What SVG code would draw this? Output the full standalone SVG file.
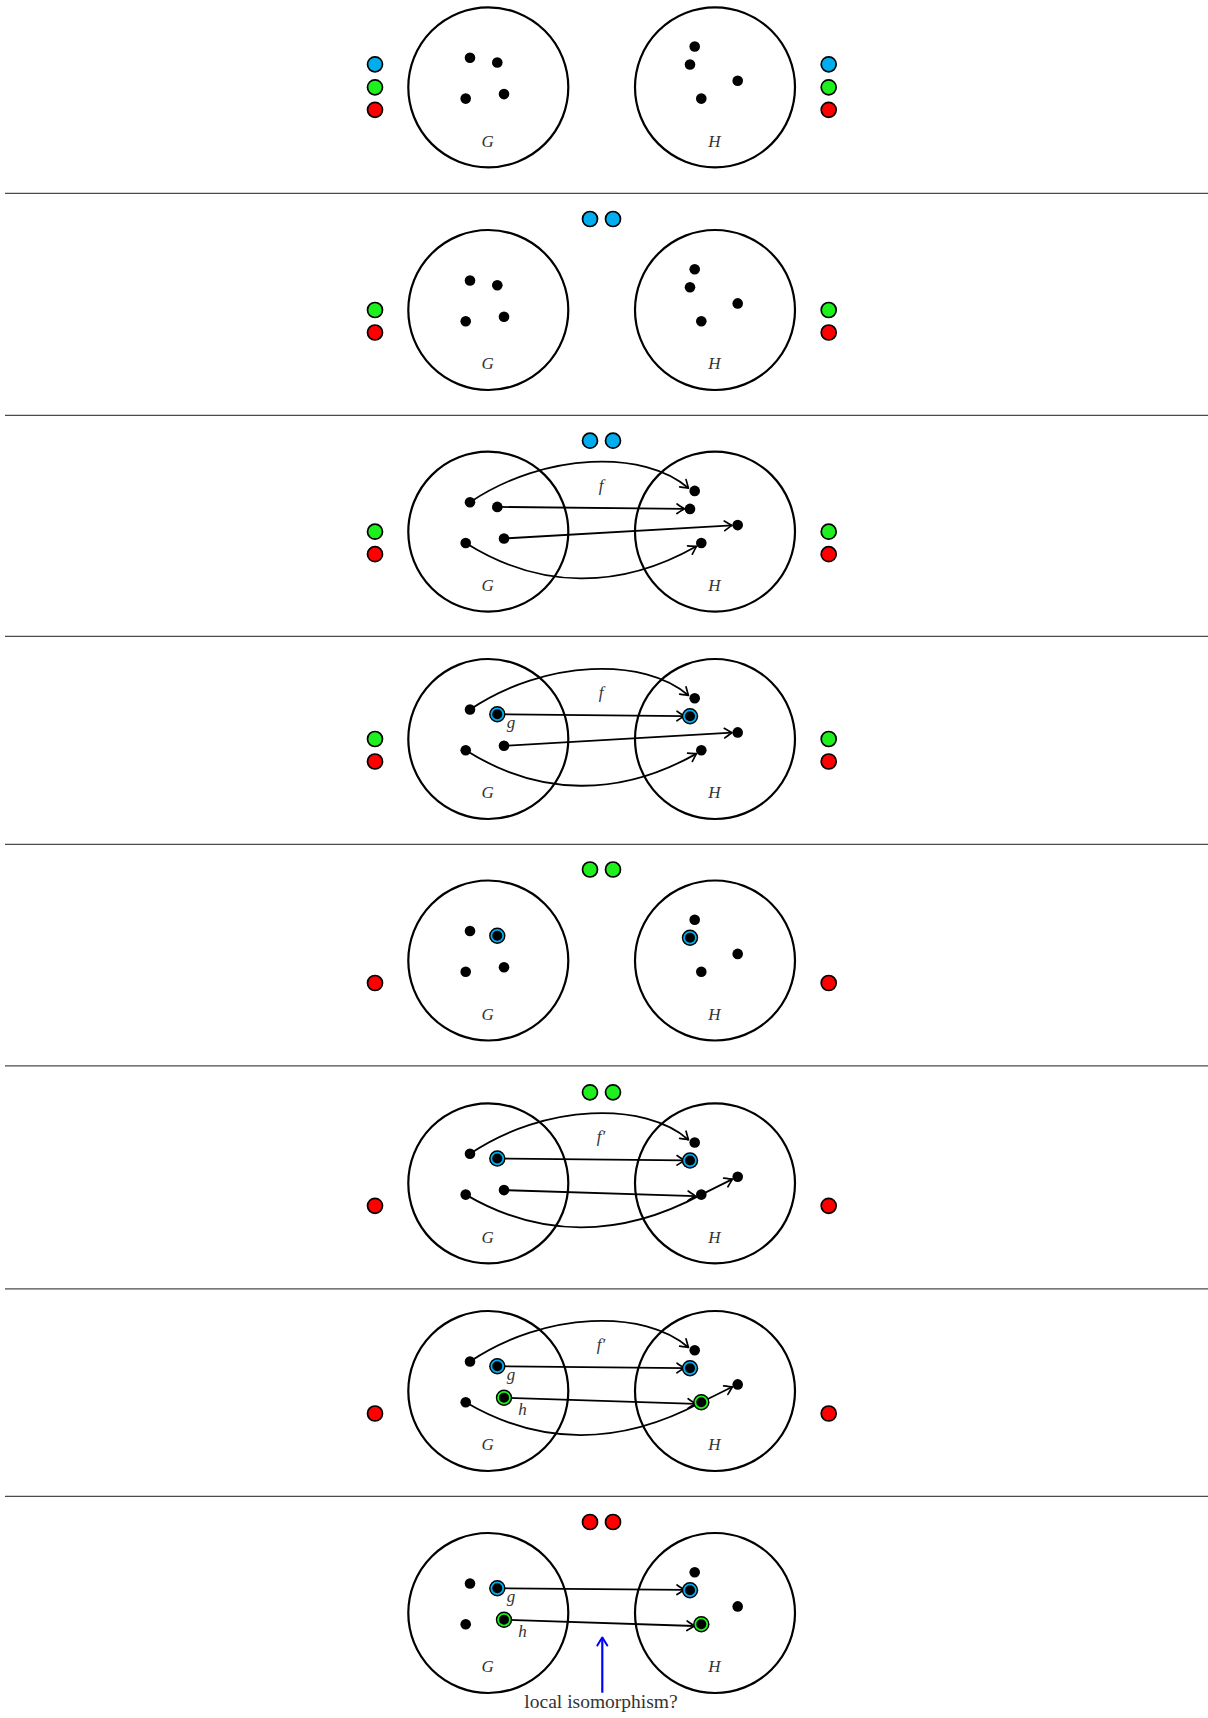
<svg xmlns="http://www.w3.org/2000/svg" width="1208" height="1718" viewBox="0 0 1208 1718">
<style>
.big{fill:none;stroke:#000;stroke-width:2.2}
.dot{fill:#000}
.sep{stroke:#4a4a4a;stroke-width:1.3}
.cb{fill:#00aeef;stroke:#000;stroke-width:1.7}
.cg{fill:#1ef01e;stroke:#000;stroke-width:1.7}
.cr{fill:#ff0000;stroke:#000;stroke-width:1.7}
.rb{fill:none;stroke:#00aeef;stroke-width:1.8}
.rg{fill:none;stroke:#1ef01e;stroke-width:1.8}
.lbl{font-family:"Liberation Serif",serif;font-style:italic;font-size:17px;fill:#333}
.txt{font-family:"Liberation Serif",serif;font-size:19.5px;fill:#333}
.arr{fill:none;stroke:#000;stroke-width:1.8;marker-end:url(#ah)}
.barr{fill:none;stroke:#0000ff;stroke-width:2.2;marker-end:url(#bh)}
</style>
<defs>
<marker id="ah" markerUnits="userSpaceOnUse" viewBox="-9 -6 11 12" refX="0" refY="0" markerWidth="11" markerHeight="12" orient="auto" overflow="visible">
<path d="M-7.5,-4.8 Q-2.2,-1.3 0,0 Q-2.2,1.3 -7.5,4.8" fill="none" stroke="#000" stroke-width="1.7" stroke-linecap="round" stroke-linejoin="round"/>
</marker>
<marker id="bh" markerUnits="userSpaceOnUse" viewBox="-9 -6 11 12" refX="0" refY="0" markerWidth="11" markerHeight="12" orient="auto" overflow="visible">
<path d="M-8,-5 Q-2.2,-1.4 0,0 Q-2.2,1.4 -8,5" fill="none" stroke="#0000ff" stroke-width="2" stroke-linecap="round" stroke-linejoin="round"/>
</marker>
</defs>
<rect width="1208" height="1718" fill="#fff"/>

<g id="separators">
<line class="sep" x1="5" y1="193.3" x2="1208" y2="193.3"/>
<line class="sep" x1="5" y1="415.3" x2="1208" y2="415.3"/>
<line class="sep" x1="5" y1="636.3" x2="1208" y2="636.3"/>
<line class="sep" x1="5" y1="844.4" x2="1208" y2="844.4"/>
<line class="sep" x1="5" y1="1065.8" x2="1208" y2="1065.8"/>
<line class="sep" x1="5" y1="1288.8" x2="1208" y2="1288.8"/>
<line class="sep" x1="5" y1="1496.3" x2="1208" y2="1496.3"/>
</g>

<!-- Panel 1 -->
<g id="panel1" transform="translate(0,87.3)">
<g id="p1-G"><circle class="big" cx="488.3" cy="0" r="80"/><text class="lbl" x="487.7" y="59.4" text-anchor="middle">G</text></g>
<g id="p1-H"><circle class="big" cx="715" cy="0" r="80"/><text class="lbl" x="714.3" y="59.4" text-anchor="middle">H</text></g>
<g id="p1-dots">
<circle class="dot" cx="470" cy="-29.5" r="5.3"/><circle class="dot" cx="497.3" cy="-24.8" r="5.3"/>
<circle class="dot" cx="465.7" cy="11.3" r="5.3"/><circle class="dot" cx="504" cy="6.8" r="5.3"/>
<circle class="dot" cx="694.7" cy="-40.8" r="5.3"/><circle class="dot" cx="690" cy="-22.8" r="5.3"/>
<circle class="dot" cx="737.7" cy="-6.6" r="5.3"/><circle class="dot" cx="701.3" cy="11.3" r="5.3"/>
</g>
<g id="p1-side">
<circle class="cb" cx="375" cy="-23" r="7.5"/><circle class="cg" cx="375" cy="0" r="7.5"/><circle class="cr" cx="375" cy="22.5" r="7.5"/>
<circle class="cb" cx="828.7" cy="-23" r="7.5"/><circle class="cg" cx="828.7" cy="0" r="7.5"/><circle class="cr" cx="828.7" cy="22.5" r="7.5"/>
</g>
</g>

<!-- Panel 2 -->
<g id="panel2" transform="translate(0,310)">
<g id="p2-G"><circle class="big" cx="488.3" cy="0" r="80"/><text class="lbl" x="487.7" y="59.4" text-anchor="middle">G</text></g>
<g id="p2-H"><circle class="big" cx="715" cy="0" r="80"/><text class="lbl" x="714.3" y="59.4" text-anchor="middle">H</text></g>
<g id="p2-dots">
<circle class="dot" cx="470" cy="-29.5" r="5.3"/><circle class="dot" cx="497.3" cy="-24.8" r="5.3"/>
<circle class="dot" cx="465.7" cy="11.3" r="5.3"/><circle class="dot" cx="504" cy="6.8" r="5.3"/>
<circle class="dot" cx="694.7" cy="-40.8" r="5.3"/><circle class="dot" cx="690" cy="-22.8" r="5.3"/>
<circle class="dot" cx="737.7" cy="-6.6" r="5.3"/><circle class="dot" cx="701.3" cy="11.3" r="5.3"/>
</g>
<g id="p2-top"><circle class="cb" cx="590" cy="-91" r="7.5"/><circle class="cb" cx="613" cy="-91" r="7.5"/></g>
<g id="p2-side">
<circle class="cg" cx="375" cy="0" r="7.5"/><circle class="cr" cx="375" cy="22.5" r="7.5"/>
<circle class="cg" cx="828.7" cy="0" r="7.5"/><circle class="cr" cx="828.7" cy="22.5" r="7.5"/>
</g>
</g>

<!-- Panel 3 -->
<g id="panel3" transform="translate(0,531.7)">
<g id="p3-G"><circle class="big" cx="488.3" cy="0" r="80"/><text class="lbl" x="487.7" y="59.4" text-anchor="middle">G</text></g>
<g id="p3-H"><circle class="big" cx="715" cy="0" r="80"/><text class="lbl" x="714.3" y="59.4" text-anchor="middle">H</text></g>
<g id="p3-connectors">
<path class="arr" d="M470,-29.5 C545,-80 645,-82 688.5,-43.5"/>
<path class="arr" d="M497.3,-24.8 L684.5,-22.9"/>
<path class="arr" d="M504,6.8 L732,-6.3"/>
<path class="arr" d="M465.7,11.3 C540,58 620,58 696.5,14.6"/>
<text class="lbl" x="601" y="-41" text-anchor="middle">f</text>
</g>
<g id="p3-dots">
<circle class="dot" cx="470" cy="-29.5" r="5.3"/><circle class="dot" cx="497.3" cy="-24.8" r="5.3"/>
<circle class="dot" cx="465.7" cy="11.3" r="5.3"/><circle class="dot" cx="504" cy="6.8" r="5.3"/>
<circle class="dot" cx="694.7" cy="-40.8" r="5.3"/><circle class="dot" cx="690" cy="-22.8" r="5.3"/>
<circle class="dot" cx="737.7" cy="-6.6" r="5.3"/><circle class="dot" cx="701.3" cy="11.3" r="5.3"/>
</g>
<g id="p3-top"><circle class="cb" cx="590" cy="-91" r="7.5"/><circle class="cb" cx="613" cy="-91" r="7.5"/></g>
<g id="p3-side">
<circle class="cg" cx="375" cy="0" r="7.5"/><circle class="cr" cx="375" cy="22.5" r="7.5"/>
<circle class="cg" cx="828.7" cy="0" r="7.5"/><circle class="cr" cx="828.7" cy="22.5" r="7.5"/>
</g>
</g>

<!-- Panel 4 -->
<g id="panel4" transform="translate(0,739)">
<g id="p4-G"><circle class="big" cx="488.3" cy="0" r="80"/><text class="lbl" x="487.7" y="59.4" text-anchor="middle">G</text></g>
<g id="p4-H"><circle class="big" cx="715" cy="0" r="80"/><text class="lbl" x="714.3" y="59.4" text-anchor="middle">H</text></g>
<g id="p4-connectors">
<path class="arr" d="M470,-29.5 C545,-80 645,-82 688.5,-43.5"/>
<path class="arr" d="M497.3,-24.8 L684.5,-22.9"/>
<path class="arr" d="M504,6.8 L732,-6.3"/>
<path class="arr" d="M465.7,11.3 C540,58 620,58 696.5,14.6"/>
<text class="lbl" x="601" y="-41" text-anchor="middle">f</text>
</g>
<g id="p4-dots">
<circle class="dot" cx="470" cy="-29.5" r="5.3"/>
<circle class="dot" cx="497.3" cy="-24.8" r="8.2"/><circle class="rb" cx="497.3" cy="-24.8" r="5.9"/>
<circle class="dot" cx="465.7" cy="11.3" r="5.3"/><circle class="dot" cx="504" cy="6.8" r="5.3"/>
<circle class="dot" cx="694.7" cy="-40.8" r="5.3"/>
<circle class="dot" cx="690" cy="-22.8" r="8.2"/><circle class="rb" cx="690" cy="-22.8" r="5.9"/>
<circle class="dot" cx="737.7" cy="-6.6" r="5.3"/><circle class="dot" cx="701.3" cy="11.3" r="5.3"/>
<text class="lbl" x="511" y="-11.5" text-anchor="middle">g</text>
</g>
<g id="p4-side">
<circle class="cg" cx="375" cy="0" r="7.5"/><circle class="cr" cx="375" cy="22.5" r="7.5"/>
<circle class="cg" cx="828.7" cy="0" r="7.5"/><circle class="cr" cx="828.7" cy="22.5" r="7.5"/>
</g>
</g>

<!-- Panel 5 -->
<g id="panel5" transform="translate(0,960.5)">
<g id="p5-G"><circle class="big" cx="488.3" cy="0" r="80"/><text class="lbl" x="487.7" y="59.4" text-anchor="middle">G</text></g>
<g id="p5-H"><circle class="big" cx="715" cy="0" r="80"/><text class="lbl" x="714.3" y="59.4" text-anchor="middle">H</text></g>
<g id="p5-dots">
<circle class="dot" cx="470" cy="-29.5" r="5.3"/>
<circle class="dot" cx="497.3" cy="-24.8" r="8.2"/><circle class="rb" cx="497.3" cy="-24.8" r="5.9"/>
<circle class="dot" cx="465.7" cy="11.3" r="5.3"/><circle class="dot" cx="504" cy="6.8" r="5.3"/>
<circle class="dot" cx="694.7" cy="-40.8" r="5.3"/>
<circle class="dot" cx="690" cy="-22.8" r="8.2"/><circle class="rb" cx="690" cy="-22.8" r="5.9"/>
<circle class="dot" cx="737.7" cy="-6.6" r="5.3"/><circle class="dot" cx="701.3" cy="11.3" r="5.3"/>
</g>
<g id="p5-top"><circle class="cg" cx="590" cy="-91" r="7.5"/><circle class="cg" cx="613" cy="-91" r="7.5"/></g>
<g id="p5-side">
<circle class="cr" cx="375" cy="22.5" r="7.5"/>
<circle class="cr" cx="828.7" cy="22.5" r="7.5"/>
</g>
</g>

<!-- Panel 6 -->
<g id="panel6" transform="translate(0,1183.3)">
<g id="p6-G"><circle class="big" cx="488.3" cy="0" r="80"/><text class="lbl" x="487.7" y="59.4" text-anchor="middle">G</text></g>
<g id="p6-H"><circle class="big" cx="715" cy="0" r="80"/><text class="lbl" x="714.3" y="59.4" text-anchor="middle">H</text></g>
<g id="p6-connectors">
<path class="arr" d="M470,-29.5 C545,-80 645,-82 688.5,-43.5"/>
<path class="arr" d="M497.3,-24.8 L684.5,-22.9"/>
<path class="arr" d="M504,6.8 L695.5,12.8"/>
<path fill="none" stroke="#000" stroke-width="1.8" d="M465.7,11.3 C540,55 620,55 701.3,11.3"/>
<path class="arr" d="M701.3,11.3 L732.5,-4.2"/>
<text class="lbl" x="601" y="-41" text-anchor="middle">f′</text>
</g>
<g id="p6-dots">
<circle class="dot" cx="470" cy="-29.5" r="5.3"/>
<circle class="dot" cx="497.3" cy="-24.8" r="8.2"/><circle class="rb" cx="497.3" cy="-24.8" r="5.9"/>
<circle class="dot" cx="465.7" cy="11.3" r="5.3"/><circle class="dot" cx="504" cy="6.8" r="5.3"/>
<circle class="dot" cx="694.7" cy="-40.8" r="5.3"/>
<circle class="dot" cx="690" cy="-22.8" r="8.2"/><circle class="rb" cx="690" cy="-22.8" r="5.9"/>
<circle class="dot" cx="737.7" cy="-6.6" r="5.3"/><circle class="dot" cx="701.3" cy="11.3" r="5.3"/>
</g>
<g id="p6-top"><circle class="cg" cx="590" cy="-91" r="7.5"/><circle class="cg" cx="613" cy="-91" r="7.5"/></g>
<g id="p6-side">
<circle class="cr" cx="375" cy="22.5" r="7.5"/>
<circle class="cr" cx="828.7" cy="22.5" r="7.5"/>
</g>
</g>

<!-- Panel 7 -->
<g id="panel7" transform="translate(0,1391)">
<g id="p7-G"><circle class="big" cx="488.3" cy="0" r="80"/><text class="lbl" x="487.7" y="59.4" text-anchor="middle">G</text></g>
<g id="p7-H"><circle class="big" cx="715" cy="0" r="80"/><text class="lbl" x="714.3" y="59.4" text-anchor="middle">H</text></g>
<g id="p7-connectors">
<path class="arr" d="M470,-29.5 C545,-80 645,-82 688.5,-43.5"/>
<path class="arr" d="M497.3,-24.8 L684.5,-22.9"/>
<path class="arr" d="M504,6.8 L695.5,12.8"/>
<path fill="none" stroke="#000" stroke-width="1.8" d="M465.7,11.3 C540,55 620,55 701.3,11.3"/>
<path class="arr" d="M701.3,11.3 L732.5,-4.2"/>
<text class="lbl" x="601" y="-41" text-anchor="middle">f′</text>
</g>
<g id="p7-dots">
<circle class="dot" cx="470" cy="-29.5" r="5.3"/>
<circle class="dot" cx="497.3" cy="-24.8" r="8.2"/><circle class="rb" cx="497.3" cy="-24.8" r="5.9"/>
<circle class="dot" cx="465.7" cy="11.3" r="5.3"/>
<circle class="dot" cx="504" cy="6.8" r="8.2"/><circle class="rg" cx="504" cy="6.8" r="5.9"/>
<circle class="dot" cx="694.7" cy="-40.8" r="5.3"/>
<circle class="dot" cx="690" cy="-22.8" r="8.2"/><circle class="rb" cx="690" cy="-22.8" r="5.9"/>
<circle class="dot" cx="737.7" cy="-6.6" r="5.3"/>
<circle class="dot" cx="701.3" cy="11.3" r="8.2"/><circle class="rg" cx="701.3" cy="11.3" r="5.9"/>
<text class="lbl" x="511" y="-11.5" text-anchor="middle">g</text>
<text class="lbl" x="522.5" y="24" text-anchor="middle">h</text>
</g>
<g id="p7-side">
<circle class="cr" cx="375" cy="22.5" r="7.5"/>
<circle class="cr" cx="828.7" cy="22.5" r="7.5"/>
</g>
</g>

<!-- Panel 8 -->
<g id="panel8" transform="translate(0,1613)">
<g id="p8-G"><circle class="big" cx="488.3" cy="0" r="80"/><text class="lbl" x="487.7" y="59.4" text-anchor="middle">G</text></g>
<g id="p8-H"><circle class="big" cx="715" cy="0" r="80"/><text class="lbl" x="714.3" y="59.4" text-anchor="middle">H</text></g>
<g id="p8-connectors">
<path class="arr" d="M497.3,-24.8 L684.5,-23.2"/>
<path class="arr" d="M504,6.8 L694.5,13"/>
<path class="barr" d="M602.3,79.7 L602.3,24.5"/>
</g>
<g id="p8-dots">
<circle class="dot" cx="470" cy="-29.5" r="5.3"/>
<circle class="dot" cx="497.3" cy="-24.8" r="8.2"/><circle class="rb" cx="497.3" cy="-24.8" r="5.9"/>
<circle class="dot" cx="465.7" cy="11.3" r="5.3"/>
<circle class="dot" cx="504" cy="6.8" r="8.2"/><circle class="rg" cx="504" cy="6.8" r="5.9"/>
<circle class="dot" cx="694.7" cy="-40.8" r="5.3"/>
<circle class="dot" cx="690" cy="-22.8" r="8.2"/><circle class="rb" cx="690" cy="-22.8" r="5.9"/>
<circle class="dot" cx="737.7" cy="-6.6" r="5.3"/>
<circle class="dot" cx="701.3" cy="11.3" r="8.2"/><circle class="rg" cx="701.3" cy="11.3" r="5.9"/>
<text class="lbl" x="511" y="-11.5" text-anchor="middle">g</text>
<text class="lbl" x="522.5" y="24" text-anchor="middle">h</text>
</g>
<g id="p8-top"><circle class="cr" cx="590" cy="-91" r="7.5"/><circle class="cr" cx="613" cy="-91" r="7.5"/></g>
<g id="p8-note"><text class="txt" x="601" y="94.5" text-anchor="middle">local isomorphism?</text></g>
</g>
</svg>
